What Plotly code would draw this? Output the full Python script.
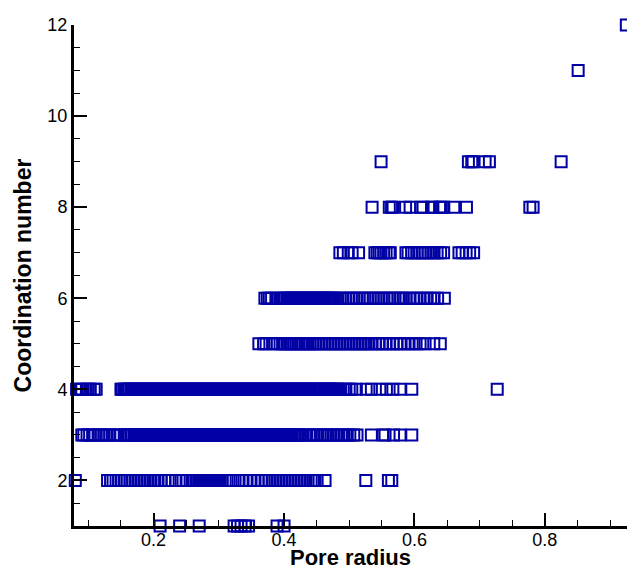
import plotly.graph_objects as go

# Pore radius values, grouped by coordination number
radius_cn1 = [0.210, 0.240, 0.270, 0.3235, 0.3288, 0.3342, 0.3403, 0.3457, 0.3894, 0.4001]

radius_cn2 = [0.080,
              0.1295, 0.1341, 0.1379, 0.1425, 0.1471, 0.1509, 0.1555, 0.1594, 0.1640, 0.1686,
              0.1732, 0.1778, 0.1824, 0.1870, 0.1916, 0.1962, 0.2016, 0.2069, 0.2115, 0.2169,
              0.2223, 0.2284, 0.2345, 0.2422, 0.2499, 0.2560,
              0.260, 0.262, 0.265, 0.267, 0.270, 0.272, 0.275, 0.277, 0.280, 0.282,
              0.285, 0.287, 0.290, 0.292, 0.295, 0.297, 0.300, 0.302, 0.305,
              0.3097, 0.3158, 0.3219, 0.3296, 0.3357, 0.3419, 0.3480, 0.3541, 0.3603, 0.3664,
              0.3725, 0.3771, 0.3817, 0.3864, 0.3910, 0.3956, 0.4002, 0.4048, 0.4094, 0.4140,
              0.4186, 0.4232, 0.4278, 0.4324, 0.4370, 0.4416, 0.4447, 0.4477, 0.4508, 0.4630,
              0.5255, 0.5601, 0.5653]

radius_cn3 = [0.090, 0.093, 0.098, 0.102, 0.107, 0.110, 0.116, 0.120, 0.124, 0.129, 0.133, 0.139, 0.144, 0.149,
              0.155, 0.157, 0.160, 0.162, 0.165, 0.167, 0.170, 0.172, 0.175, 0.177,
              0.180, 0.182, 0.185, 0.187, 0.190, 0.192, 0.195, 0.197, 0.200, 0.202,
              0.205, 0.207, 0.210, 0.212, 0.215, 0.217, 0.220, 0.222, 0.225, 0.227,
              0.230, 0.232, 0.235, 0.237, 0.240, 0.242, 0.245, 0.247, 0.250, 0.252,
              0.255, 0.257, 0.260, 0.262, 0.265, 0.267, 0.270, 0.272, 0.275, 0.277,
              0.280, 0.282, 0.285, 0.287, 0.290, 0.292, 0.295, 0.297, 0.300, 0.302,
              0.305, 0.307, 0.310, 0.312, 0.315, 0.317, 0.320, 0.322, 0.325, 0.327,
              0.330, 0.332, 0.335, 0.337, 0.340, 0.342, 0.345, 0.347, 0.350, 0.352,
              0.355, 0.357, 0.360, 0.362, 0.365, 0.367, 0.370, 0.372, 0.375, 0.377,
              0.380, 0.382, 0.385, 0.387, 0.390, 0.392, 0.395, 0.397, 0.400, 0.402,
              0.405, 0.407, 0.410, 0.412, 0.415, 0.417, 0.420, 0.422, 0.425,
              0.429, 0.434, 0.439, 0.444, 0.449, 0.452, 0.458, 0.463, 0.468, 0.472, 0.477, 0.482, 0.488,
              0.492, 0.497, 0.501, 0.507, 0.512,
              0.534, 0.552, 0.555, 0.568, 0.578, 0.596]

radius_cn4 = [0.082, 0.088, 0.090, 0.097, 0.100, 0.103, 0.109, 0.112,
              0.150, 0.152, 0.155, 0.157, 0.160, 0.162, 0.165, 0.167, 0.170, 0.172,
              0.175, 0.177, 0.180, 0.182, 0.185, 0.187, 0.190, 0.192, 0.195, 0.197,
              0.200, 0.202, 0.205, 0.207, 0.210, 0.212, 0.215, 0.217, 0.220, 0.222,
              0.225, 0.227, 0.230, 0.232, 0.235, 0.237, 0.240, 0.242, 0.245, 0.247,
              0.250, 0.252, 0.255, 0.257, 0.260, 0.262, 0.265, 0.267, 0.270, 0.272,
              0.275, 0.277, 0.280, 0.282, 0.285, 0.287, 0.290, 0.292, 0.295, 0.297,
              0.300, 0.302, 0.305, 0.307, 0.310, 0.312, 0.315, 0.317, 0.320, 0.322,
              0.325, 0.327, 0.330, 0.332, 0.335, 0.337, 0.340, 0.342, 0.345, 0.347,
              0.350, 0.352, 0.355, 0.357, 0.360, 0.362, 0.365, 0.367, 0.370, 0.372,
              0.375, 0.377, 0.380, 0.382, 0.385, 0.387, 0.390, 0.392, 0.395, 0.397,
              0.400, 0.402, 0.405, 0.407, 0.410, 0.412, 0.415, 0.417, 0.420, 0.422,
              0.425, 0.427, 0.430, 0.432, 0.435, 0.437, 0.440, 0.442, 0.445, 0.447,
              0.450, 0.452, 0.455, 0.457, 0.461, 0.463, 0.465, 0.467, 0.470, 0.472,
              0.475, 0.477, 0.480, 0.482, 0.485,
              0.491, 0.495, 0.500, 0.504, 0.511,
              0.526, 0.534, 0.547, 0.557, 0.567, 0.578, 0.596,
              0.727]

radius_cn5 = [0.3615, 0.3687, 0.3726, 0.3825, 0.3894, 0.3940, 0.3979, 0.4017, 0.4048, 0.4086,
              0.4117, 0.4155, 0.4186, 0.4224, 0.4262, 0.4293, 0.4331, 0.4370, 0.4400, 0.4439,
              0.4477, 0.4523, 0.4569, 0.4615, 0.4661, 0.4707, 0.4753, 0.4799, 0.4845, 0.4891,
              0.4937, 0.4983, 0.5029, 0.5075, 0.5121, 0.5167, 0.5213, 0.5259, 0.5305, 0.5351,
              0.5405, 0.5459, 0.5512, 0.5566, 0.5620, 0.5673, 0.5727, 0.5781, 0.5842, 0.5903,
              0.5965, 0.6026, 0.6087, 0.6164, 0.6297, 0.6397]

radius_cn6 = [0.3707, 0.3744, 0.3775, 0.3810, 0.3887,
              0.395, 0.397, 0.400, 0.402, 0.405, 0.407, 0.410, 0.412, 0.415, 0.417,
              0.420, 0.422, 0.425, 0.427, 0.430, 0.432, 0.435, 0.437, 0.440, 0.442,
              0.445, 0.447, 0.450, 0.452, 0.455, 0.457, 0.460, 0.462, 0.465, 0.467,
              0.470, 0.472, 0.475, 0.477, 0.480,
              0.486, 0.490, 0.494, 0.499, 0.503, 0.507, 0.511, 0.515, 0.520, 0.524, 0.528, 0.532,
              0.537, 0.541, 0.545, 0.549, 0.553, 0.558, 0.562, 0.566, 0.570, 0.575, 0.579, 0.583,
              0.587,
              0.5934, 0.5988, 0.6041, 0.6087, 0.6149, 0.6195, 0.6249, 0.6302, 0.6356, 0.6459]

radius_cn7 = [0.4857, 0.4910, 0.4986, 0.5045, 0.5144,
              0.5394, 0.5428, 0.5459, 0.5489, 0.5528, 0.5566, 0.5612, 0.5630,
              0.5870, 0.5903, 0.5957, 0.5995, 0.6041, 0.6087, 0.6126, 0.6164, 0.6210, 0.6256,
              0.6302, 0.6348, 0.6402, 0.6448,
              0.6683, 0.6732, 0.6793, 0.6847, 0.6908]

radius_cn8 = [0.5351, 0.5615, 0.5650, 0.5673, 0.5865, 0.5934, 0.6095, 0.6133, 0.6264, 0.6279,
              0.6386, 0.6409, 0.6451, 0.6604, 0.6798, 0.7770, 0.7820]

radius_cn9 = [0.5489, 0.6828, 0.6880, 0.6900, 0.7084, 0.7150, 0.8250]

radius_cn11 = [0.8511]

radius_cn12 = [0.925]

groups = [(1, radius_cn1), (2, radius_cn2), (3, radius_cn3), (4, radius_cn4), (5, radius_cn5),
          (6, radius_cn6), (7, radius_cn7), (8, radius_cn8), (9, radius_cn9), (11, radius_cn11),
          (12, radius_cn12)]

xs, ys = [], []
for cn, radii in groups:
    xs.extend(radii)
    ys.extend([cn] * len(radii))

BLUE = "rgb(0,0,165)"
FONT = "Liberation Sans, Arial, sans-serif"

fig = go.Figure(go.Scatter(
    x=xs, y=ys, mode="markers",
    marker=dict(symbol="square-open", size=11, color=BLUE,
                line=dict(width=2, color=BLUE)),
    cliponaxis=False, showlegend=False,
))

axis_common = dict(
    showgrid=False, zeroline=False, showline=True, linewidth=3, linecolor="black",
    ticks="inside", ticklen=13, tickwidth=2, tickcolor="black",
    tickfont=dict(family=FONT, size=18, color="black"),
)

fig.update_xaxes(
    range=[0.078, 0.926], tick0=0, dtick=0.2, ticklabelstandoff=-5,
    minor=dict(dtick=0.05, ticks="inside", ticklen=6, tickwidth=1, tickcolor="black"),
    **axis_common,
)
fig.update_yaxes(
    range=[1, 12], tick0=0, dtick=2,
    minor=dict(dtick=0.5, ticks="inside", ticklen=6, tickwidth=1, tickcolor="black"),
    title=dict(text="<b>Coordination number</b>", font=dict(family=FONT, size=23, color="black"), standoff=10),
    **axis_common,
)

fig.add_annotation(
    text="<b>Pore radius</b>", xref="paper", yref="paper", x=0.5, y=0,
    xanchor="center", yanchor="bottom", yshift=-45, showarrow=False, borderpad=0,
    font=dict(family=FONT, size=22, color="black"),
)

fig.update_layout(
    width=627, height=571,
    margin=dict(l=74, r=0, t=25, b=45, autoexpand=False),
    plot_bgcolor="white", paper_bgcolor="white",
    font=dict(family=FONT, color="black"),
)

fig.write_html("out.html")
